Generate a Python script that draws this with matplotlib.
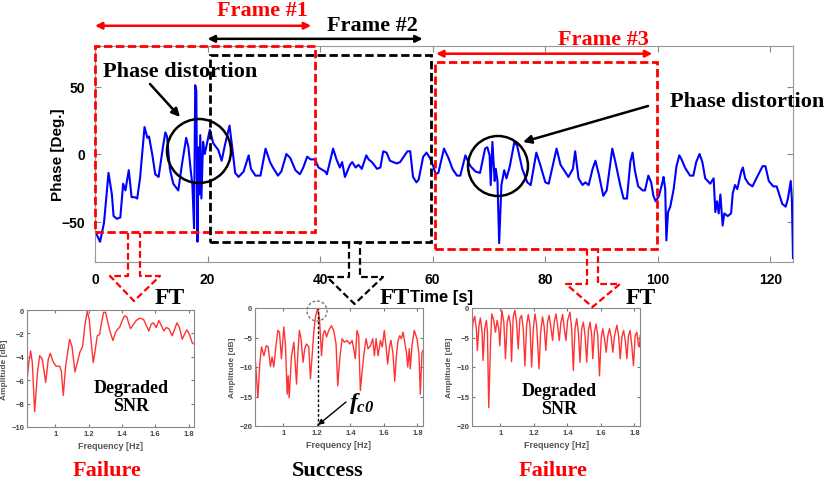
import matplotlib.pyplot as plt
from matplotlib.patches import Rectangle, Circle

# ---------------- data ----------------
time_s = [0, 0.9, 1.6, 2.4, 3.0, 3.3, 3.9, 4.5, 5.0, 5.4, 6.0, 6.5, 7.1, 7.5, 8.0,
          8.8, 9.3, 9.6, 10.2, 10.7, 11.3, 12.1, 12.5, 12.8, 13.3, 13.9, 14.8, 15.4,
          16.2, 16.6, 17.0, 17.3, 17.6, 17.8, 18.0, 18.2, 18.4, 18.5, 18.7, 18.9,
          19.2, 19.5, 20.4, 21.0, 21.9, 22.5, 23.1, 23.9, 24.4, 24.9, 25.5, 26.4,
          27.3, 27.7, 28.5, 29.4, 30.3, 31.1, 31.6, 32.5, 33.1, 34.0, 34.7, 35.6,
          36.4, 37.0, 37.7, 38.3, 39.1, 39.7, 40.9, 41.2, 42.3, 42.9, 43.5, 43.9,
          44.4, 45.3, 45.7, 46.3, 46.8, 47.4, 48.2, 48.6, 49.2, 50.1, 50.7, 51.2,
          51.8, 52.4, 53.0, 53.6, 54.2, 55.5, 56.0, 56.5, 57.1, 57.5, 58.3, 58.9,
          59.5, 60.1, 60.5, 61.0, 62.0, 62.8, 63.5, 64.3, 64.9, 65.8, 66.1, 66.7,
          67.6, 68.4, 69.3, 69.7, 70.1, 70.3, 70.6, 71.0, 71.2, 71.5, 71.8, 72.2,
          72.7, 73.1, 73.7, 74.5, 75.0, 75.9, 76.8, 77.4, 78.4, 79.1, 80.0, 80.6,
          82.0, 82.7, 84.1, 84.9, 85.3, 85.9, 86.6, 87.1, 87.7, 88.4, 88.9, 89.5,
          90.3, 90.9, 91.9, 92.5, 93.3, 93.9, 94.5, 95.1, 95.5, 95.9, 96.5, 97.3,
          97.7, 98.3, 98.8, 99.2, 99.6, 100.2, 100.8, 101.0, 101.3, 101.5, 101.8,
          102.2, 102.8, 103.3, 103.8, 104.2, 104.8, 105.7, 106.3, 106.8, 107.4,
          107.9, 108.4, 109.3, 109.9, 110.2, 110.5, 110.8, 111.1, 111.5, 111.8,
          112.4, 113.0, 113.3, 113.7, 114.1, 114.8, 115.1, 115.5, 116.1, 116.8,
          117.5, 118.6, 119.1, 119.7, 120.5, 121.1, 122.1, 122.7, 123.1, 123.6,
          123.8, 124.0]
phase_deg = [-57, -65, -51, -14, -30, -46, -48, -47, -22, -27, -12, -32, -32, -33, -18,
             20, 12, 13, -1, -15, -17, 6, 16, 13, -11, -22, -27, -9,
             12, 5, -12, -23, -55, 51, 47, -65, 5, -30, 14, -33,
             9, 0, 18, 8, 3, -5, 7, 21, 4, -14, -17, -13,
             -1, -11, -16, -16, 4, -6, -10, -16, -13, 0, -3, -12,
             -15, -10, -2, -4, -4, -10, -13, -15, 4, -4, -10, -6,
             -17, -8, -6, -10, -8, -11, -1, -4, -6, -11, -10, 2,
             1, -5, -6, -7, -6, 2, 2, -17, -21, -19, -2, 1,
             -3, -9, -15, -14, 4, -3, -11, -16, -16, -1, -4, -9,
             -13, -14, 4, 5, -1, -23, 9, -20, -11, -20, -66, -23,
             -12, -18, -9, 9, 6, -11, -21, -23, 1, -8, -21, -22,
             4, -8, -17, -11, 2, -18, -23, -21, -23, -11, -5, -15,
             -31, -27, 4, -7, -23, -33, -33, -6, 1, -12, -24, -27,
             -27, -16, -21, -31, -35, -31, -21, -17, -26, -64, -43,
             -39, -26, -9, -1, -4, -10, -16, -16, -6, 0,
             -6, -18, -22, -18, -43, -35, -44, -30, -53, -44,
             -46, -44, -29, -23, -26, -13, -10, -18, -22, -24,
             -18, -9, -9, -20, -24, -24, -37, -39, -33, -20,
             -33, -77]

# frames (s) and the y level (deg) of their span arrows
frame_names = ['Frame #1', 'Frame #2', 'Frame #3']
frame_colors = ['#ff0000', '#000000', '#ff0000']
box_start = [0, 20.5, 60.4]
box_end = [39, 59.7, 99.9]
box_low = [-58, -65, -70]
box_high = [80, 73.5, 68.4]
span_start = [0, 20, 60.6]
span_end = [38.4, 58.2, 99]
span_level = [95, 85.3, 74.3]

# spectra of frame 1, 2, 3
freq_f1 = [0.828, 0.840, 0.852, 0.862, 0.876, 0.892, 0.906, 0.922, 0.942, 0.958, 0.970,
           0.986, 1.004, 1.026, 1.036, 1.048, 1.062, 1.086, 1.100, 1.118, 1.132, 1.148,
           1.164, 1.178, 1.192, 1.204, 1.214, 1.228, 1.238, 1.252, 1.266, 1.276, 1.290,
           1.302, 1.316, 1.330, 1.346, 1.362, 1.376, 1.386, 1.402, 1.416, 1.430, 1.440,
           1.452, 1.466, 1.486, 1.506, 1.530, 1.546, 1.562, 1.576, 1.590, 1.606, 1.622,
           1.636, 1.652, 1.666, 1.682, 1.702, 1.718, 1.730, 1.746, 1.762, 1.772, 1.790,
           1.806, 1.822, 1.832]
amp_f1 = [-6.4, -4.6, -3.5, -4.5, -8.7, -5.5, -3.9, -4.2, -6.2, -4.2, -3.7,
          -4.4, -4.8, -4.8, -5.2, -7.3, -4.8, -2.5, -3.1, -5.3, -4.5, -3.6,
          -3.1, -1.3, -0.1, -0.8, -2.5, -4.5, -3.6, -2.2, -2.1, -1.2, -0.2,
          -0.2, -1.1, -1.9, -2.6, -1.9, -1.6, -1.5, -0.9, -0.5, -0.6, -1.1,
          -1.6, -1.3, -0.9, -0.7, -0.8, -1.3, -1.8, -1.2, -1.1, -1.5, -0.9,
          -1.3, -1.8, -1.5, -1.6, -2.2, -1.6, -1.1, -1.5, -2.5, -2.2, -1.7,
          -2.1, -2.8, -2.9]

freq_f2 = [0.833, 0.847, 0.859, 0.869, 0.883, 0.897, 0.909, 0.922, 0.932, 0.942, 0.952,
           0.966, 0.976, 0.988, 1.002, 1.012, 1.022, 1.028, 1.034, 1.048, 1.062, 1.078,
           1.085, 1.095, 1.105, 1.117, 1.127, 1.137, 1.151, 1.161, 1.171, 1.181, 1.191,
           1.205, 1.215, 1.227, 1.237, 1.247, 1.257, 1.270, 1.286, 1.300, 1.314, 1.324,
           1.336, 1.350, 1.364, 1.380, 1.396, 1.410, 1.419, 1.429, 1.439, 1.449, 1.459,
           1.469, 1.479, 1.493, 1.505, 1.519, 1.533, 1.543, 1.553, 1.565, 1.579, 1.590,
           1.602, 1.612, 1.622, 1.634, 1.642, 1.654, 1.664, 1.674, 1.684, 1.694, 1.704,
           1.714, 1.724, 1.734, 1.742, 1.751, 1.757, 1.767, 1.781, 1.797, 1.809, 1.817,
           1.827, 1.833]
amp_f2 = [-9.2, -15.2, -9.2, -6.6, -8.1, -6.4, -6.6, -9.9, -8.3, -10.0, -7.2,
          -3.8, -4.1, -8.6, -3.2, -6.4, -14.6, -11.5, -15.2, -8.1, -5.8, -12.9,
          -8.1, -3.8, -5.2, -9.2, -6.9, -6.1, -6.6, -12.0, -8.1, -4.1, -1.5,
          0.0, -1.8, -8.1, -4.4, -3.8, -4.9, -3.8, -3.0, -3.8, -6.1, -13.2,
          -8.6, -5.2, -5.8, -5.5, -6.1, -5.5, -6.9, -8.6, -3.8, -4.7, -14.0,
          -10.9, -8.1, -5.2, -6.9, -6.4, -5.2, -8.1, -5.2, -8.1, -5.5, -6.6,
          -3.8, -6.4, -9.5, -6.4, -5.5, -7.8, -12.4, -8.1, -5.5, -4.7, -5.2,
          -4.1, -5.8, -7.5, -10.0, -6.9, -10.3, -6.4, -3.8, -5.2, -7.8, -14.6,
          -7.5, -7.2]

freq_f3 = [0.830, 0.836, 0.846, 0.856, 0.862, 0.872, 0.880, 0.890, 0.896, 0.906,
           0.916, 0.922, 0.930, 0.940, 0.948, 0.960, 0.970, 0.980, 0.990, 0.996,
           1.008, 1.020, 1.030, 1.040, 1.050, 1.060, 1.066, 1.076, 1.086, 1.096,
           1.106, 1.116, 1.126, 1.136, 1.146, 1.156, 1.166, 1.176, 1.186, 1.196,
           1.206, 1.216, 1.230, 1.240, 1.251, 1.261, 1.271, 1.281, 1.291, 1.305,
           1.311, 1.321, 1.331, 1.341, 1.351, 1.361, 1.371, 1.381, 1.391, 1.401,
           1.415, 1.425, 1.435, 1.445, 1.455, 1.465, 1.475, 1.485, 1.495, 1.505,
           1.515, 1.525, 1.535, 1.545, 1.551, 1.561, 1.571, 1.581, 1.591, 1.601,
           1.611, 1.621, 1.631, 1.641, 1.651, 1.661, 1.671, 1.681, 1.695, 1.705,
           1.715, 1.725, 1.735, 1.745, 1.755, 1.764, 1.774, 1.784, 1.794, 1.804,
           1.814, 1.824, 1.830, 1.834]
amp_f3 = [-4.4, -2.4, -1.4, -3.5, -7.2, -2.9, -1.7, -4.1, -8.9, -3.5,
          -2.1, -4.1, -16.9, -6.4, -1.0, -2.1, -4.1, -2.1, -3.5, -6.4,
          -0.4, -2.4, -8.6, -2.4, -1.25, -2.9, -9.1, -1.5, -0.4, -2.4,
          -6.9, -1.8, -1.25, -3.5, -9.8, -2.9, -1.1, -2.9, -10.0, -3.5,
          -1.0, -2.9, -10.3, -4.1, -1.5, -3.2, -7.2, -2.4, -1.25, -4.1,
          -5.5, -2.4, -1.0, -2.9, -5.5, -2.4, -1.1, -3.5, -5.5, -2.1,
          -0.7, -3.5, -10.6, -3.5, -1.8, -4.1, -9.2, -3.5, -2.4, -4.7,
          -9.2, -3.8, -2.4, -4.7, -8.6, -4.1, -2.7, -4.7, -11.5, -5.2,
          -3.5, -5.2, -7.5, -4.7, -3.5, -4.9, -7.5, -4.7, -2.9, -4.7,
          -8.6, -4.9, -3.8, -5.5, -8.6, -4.7, -3.8, -6.4, -9.8, -4.7,
          -4.1, -6.4, -6.6, -4.7]

verdicts = ['Failure', 'Success', 'Failure']
verdict_colors = ['#ff0000', '#000000', '#ff0000']

# ---------------- figure ----------------
W, H = 827, 481
fig = plt.figure(figsize=(W / 100, H / 100), dpi=100)
SERIF = 'Liberation Serif'
SANS = 'Liberation Sans'
plt.rcParams['mathtext.fontset'] = 'custom'
plt.rcParams['mathtext.it'] = 'Liberation Serif:italic:bold'
plt.rcParams['mathtext.rm'] = 'Liberation Serif:italic:bold'


def px_axes(x0, y0, x1, y1):
    return fig.add_axes([x0 / W, 1 - y1 / H, (x1 - x0) / W, (y1 - y0) / H])


# main phase plot
ax = px_axes(95, 47, 793, 263)
ax.plot(time_s, phase_deg, color='#0000ff', lw=1.5)
ax.set_xlim(0, 124)
ax.set_ylim(-80, 80)
ax.set_xticks(range(0, 121, 20))
ax.set_yticks([-50, 0, 50])
ax.tick_params(direction='in', top=True, right=True, length=4, color='#888888',
               labelsize=10, pad=7)
for lab in ax.get_xticklabels() + ax.get_yticklabels():
    lab.set_fontweight('bold')
    lab.set_family(SANS)
for s in ax.spines.values():
    s.set_color('#999999')
ax.set_ylabel('Phase [Deg.]', fontsize=11, fontweight='bold', family=SANS)
ax.yaxis.set_label_coords(-0.043, 0.5)
ax.set_xlabel('Time [s]', fontsize=12, fontweight='bold', family=SANS)
ax.xaxis.set_label_coords(0.496, -0.125)

for i in range(3):
    ax.add_patch(Rectangle((box_start[i], box_low[i]), box_end[i] - box_start[i],
                           box_high[i] - box_low[i], fill=False, ec=frame_colors[i],
                           lw=2, ls=(0, (3, 1.3)), clip_on=False, zorder=5))
    ax.annotate('', xy=(span_end[i], span_level[i]), xytext=(span_start[i], span_level[i]),
                annotation_clip=False,
                arrowprops=dict(arrowstyle='<|-|>', color=frame_colors[i], lw=1.8,
                                mutation_scale=10, shrinkA=0, shrinkB=0))

# spectra
spec_axes = [px_axes(27, 311, 194, 428), px_axes(255, 309, 423, 427),
             px_axes(472, 309, 640, 427)]
spec_data = [(freq_f1, amp_f1), (freq_f2, amp_f2), (freq_f3, amp_f3)]
spec_ylim = [(-10, 0), (-20, 0), (-20, 0)]
spec_yticks = [range(-10, 1, 2), range(-20, 1, 5), range(-20, 1, 5)]
for sa, (f, a), yl, yt in zip(spec_axes, spec_data, spec_ylim, spec_yticks):
    sa.plot(f, a, color='#ff3333', lw=1)
    sa.set_xlim(0.83, 1.833)
    sa.set_ylim(*yl)
    sa.set_yticks(list(yt))
    sa.set_xticks([1, 1.2, 1.4, 1.6, 1.8])
    sa.set_xticklabels(['1', '1.2', '1.4', '1.6', '1.8'])
    sa.tick_params(direction='in', top=True, right=True, length=2.5, color='#777777',
                   labelsize=5.5, labelcolor='#444444', pad=2)
    for lab in sa.get_xticklabels() + sa.get_yticklabels():
        lab.set_fontweight('bold')
        lab.set_family(SANS)
    for s in sa.spines.values():
        s.set_color('#888888')
    sa.set_xlabel('Frequency [Hz]', fontsize=6.5, color='#555555', family=SANS,
                  fontweight='bold', labelpad=3)
    sa.set_ylabel('Amplitude [dB]', fontsize=6, color='#555555', family=SANS,
                  fontweight='bold', labelpad=2)

# peak of frame 2 spectrum
pk = amp_f2.index(max(amp_f2))
spec_axes[1].axvline(freq_f2[pk], color='k', ls=(0, (2, 1.5)), lw=1)

# ---------------- annotations (pixel overlay) ----------------
ov = fig.add_axes([0, 0, 1, 1], zorder=10)
ov.set_xlim(0, W)
ov.set_ylim(H, 0)
ov.axis('off')
ov.patch.set_alpha(0)

title_pos = [(262, 16), (372, 31), (603, 45)]
for name, c, (x, y) in zip(frame_names, frame_colors, title_pos):
    ov.text(x, y, name, color=c, fontsize=16, fontweight='bold', family=SERIF,
            ha='center', va='baseline')

ov.text(180, 77, 'Phase distortion', fontsize=16, fontweight='bold', family=SERIF,
        ha='center', va='baseline')
ov.text(747, 107, 'Phase distortion', fontsize=16, fontweight='bold', family=SERIF,
        ha='center', va='baseline')
ov.add_patch(Circle((199, 152), 32, fill=False, ec='k', lw=1.8))
ov.add_patch(Circle((498, 167), 30, fill=False, ec='k', lw=1.8))
arrow_kw = dict(arrowstyle='-|>', color='k', lw=1.8, mutation_scale=12,
                shrinkA=0, shrinkB=0)
ov.annotate('', xy=(180, 118), xytext=(150, 85), arrowprops=arrow_kw)
ov.annotate('', xy=(523, 143), xytext=(648, 107), arrowprops=arrow_kw)

# hollow dashed arrows from each frame down to its spectrum
hollow = [(128, 140, 234, 277, 110, 160, 302, '#ff0000'),
          (349, 360, 243, 278, 327, 383, 305, '#000000'),
          (587, 598, 250, 285, 566, 620, 308, '#ff0000')]
for xl, xr, ytop, ybase, hl, hr, ytip, c in hollow:
    xs = [xl, xl, hl, (xl + xr) / 2, hr, xr, xr]
    ys = [ytop, ybase, ybase, ytip, ybase, ybase, ytop]
    ov.plot(xs, ys, color=c, lw=1.6, ls=(0, (3, 1.5)))

for x in (170, 395, 641):
    ov.text(x, 304, 'FT', fontsize=17, fontweight='bold', family=SERIF,
            ha='center', va='baseline')

for x, y in ((131, 393), (559, 396)):
    ov.text(x, y, 'Degraded', fontsize=13, fontweight='bold', family=SERIF,
            ha='center', va='baseline')
    ov.text(x, y + 18, 'SNR', fontsize=13, fontweight='bold', family=SERIF,
            ha='center', va='baseline')

for x, v, c in zip((107, 328, 553), verdicts, verdict_colors):
    ov.text(x, 476, v, color=c, fontsize=16, fontweight='bold', family=SERIF,
            ha='center', va='baseline')

# f_c0 marker
ov.add_patch(Circle((317, 312), 10, fill=False, ec='#777777', lw=1, ls=(0, (2, 1.5))))
ov.text(362, 409, r'$f_{c0}$', fontsize=17, ha='center', va='baseline')
ov.annotate('', xy=(318, 426), xytext=(346, 403),
            arrowprops=dict(arrowstyle='-|>', color='k', lw=1, mutation_scale=8,
                            shrinkA=0, shrinkB=0))

fig.savefig('out.png', dpi=100)
